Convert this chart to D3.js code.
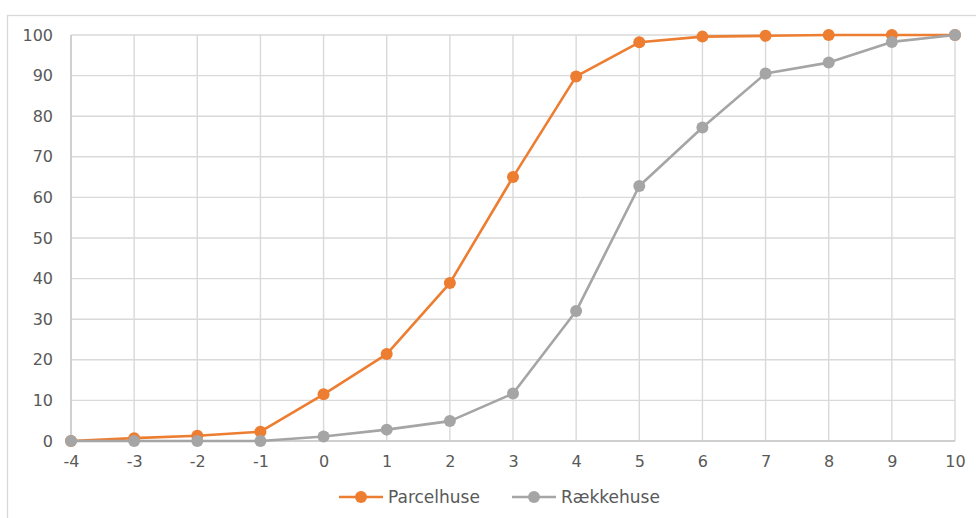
<!DOCTYPE html>
<html>
<head>
<meta charset="utf-8">
<script src="https://cdn.jsdelivr.net/npm/d3@7"></script>
<style>
  html, body { margin: 0; padding: 0; background: #fff; }
  svg { display: block; }
  text { font-family: "DejaVu Sans", sans-serif; fill: #595959; }
</style>
</head>
<body>
<svg id="chart" width="976" height="518"></svg>
<script>
// Categories on the x axis
const xValues = [-4, -3, -2, -1, 0, 1, 2, 3, 4, 5, 6, 7, 8, 9, 10];
// Cumulative share (%) per series
const parcelhuse = [0, 0.7, 1.3, 2.3, 11.5, 21.4, 38.9, 65.0, 89.8, 98.2, 99.6, 99.8, 100, 100, 100];
const raekkehuse = [0, 0, 0, 0, 1.1, 2.8, 4.9, 11.7, 32.0, 62.8, 77.2, 90.5, 93.2, 98.3, 100];
const yTicks = [0, 10, 20, 30, 40, 50, 60, 70, 80, 90, 100];
const seriesNames = ["Parcelhuse", "Rækkehuse"];
const seriesColors = ["#ED7D31", "#A5A5A5"];

const svg = d3.select("#chart");
const W = 976, H = 518;

// Outer chart frame
svg.append("rect")
  .attr("x", 7.5).attr("y", 15.5)
  .attr("width", W + 20).attr("height", H + 20)
  .attr("fill", "none").attr("stroke", "#d9d9d9").attr("stroke-width", 1.3);

const plot = { left: 71, right: 955, top: 35, bottom: 441 };

const x = d3.scaleLinear().domain([-4, 10]).range([plot.left, plot.right]);
const y = d3.scaleLinear().domain([0, 100]).range([plot.bottom, plot.top]);

// Grid lines
const grid = svg.append("g");
grid.selectAll("line.h").data(yTicks).join("line").attr("class", "h")
  .attr("x1", plot.left).attr("x2", plot.right)
  .attr("y1", d => y(d)).attr("y2", d => y(d))
  .attr("stroke", "#d9d9d9").attr("stroke-width", 1.4);
grid.selectAll("line.v").data(xValues).join("line").attr("class", "v")
  .attr("x1", d => x(d)).attr("x2", d => x(d))
  .attr("y1", plot.top).attr("y2", plot.bottom)
  .attr("stroke", "#d9d9d9").attr("stroke-width", 1.4);

// Axis lines
svg.append("line").attr("x1", plot.left).attr("x2", plot.right).attr("y1", y(0)).attr("y2", y(0))
  .attr("stroke", "#c8c8c8").attr("stroke-width", 1.4);
svg.append("line").attr("x1", plot.left).attr("x2", plot.left).attr("y1", plot.top).attr("y2", plot.bottom)
  .attr("stroke", "#c8c8c8").attr("stroke-width", 1.4);

// Axis labels via d3 axes (domain and ticks hidden); plain hyphen for negatives
const fmt = d => String(d);
const yAxis = d3.axisLeft(y).tickValues(yTicks).tickSize(0).tickPadding(18).tickFormat(fmt);
const gy = svg.append("g").attr("transform", `translate(${plot.left},0)`).call(yAxis);
gy.select(".domain").remove();
gy.selectAll("text").attr("font-size", 16).attr("font-family", "DejaVu Sans").attr("fill", "#595959");

const xAxis = d3.axisBottom(x).tickValues(xValues).tickSize(0).tickPadding(15).tickFormat(fmt);
const gx = svg.append("g").attr("transform", `translate(0,${plot.bottom})`).call(xAxis);
gx.select(".domain").remove();
gx.selectAll("text").attr("font-size", 16).attr("font-family", "DejaVu Sans").attr("fill", "#595959");

// Series lines and markers (orange first, gray on top)
const line = d3.line().x((d, i) => x(xValues[i])).y(d => y(d));
[[parcelhuse, seriesColors[0]], [raekkehuse, seriesColors[1]]].forEach(([vals, color]) => {
  const g = svg.append("g");
  g.append("path").datum(vals)
    .attr("d", line).attr("fill", "none")
    .attr("stroke", color).attr("stroke-width", 2.6)
    .attr("stroke-linejoin", "round");
  g.selectAll("circle").data(vals).join("circle")
    .attr("cx", (d, i) => x(xValues[i])).attr("cy", d => y(d))
    .attr("r", 6).attr("fill", color);
});

// Legend
const legendY = 497;
const legendItems = [
  { name: seriesNames[0], color: seriesColors[0], x0: 339 },
  { name: seriesNames[1], color: seriesColors[1], x0: 512 }
];
legendItems.forEach(it => {
  const g = svg.append("g");
  g.append("line").attr("x1", it.x0).attr("x2", it.x0 + 44)
    .attr("y1", legendY).attr("y2", legendY)
    .attr("stroke", it.color).attr("stroke-width", 2.6);
  g.append("circle").attr("cx", it.x0 + 22).attr("cy", legendY).attr("r", 6).attr("fill", it.color);
  g.append("text").attr("x", it.x0 + 49).attr("y", legendY)
    .attr("dy", "0.35em").attr("font-size", 17).text(it.name);
});
</script>
</body>
</html>
